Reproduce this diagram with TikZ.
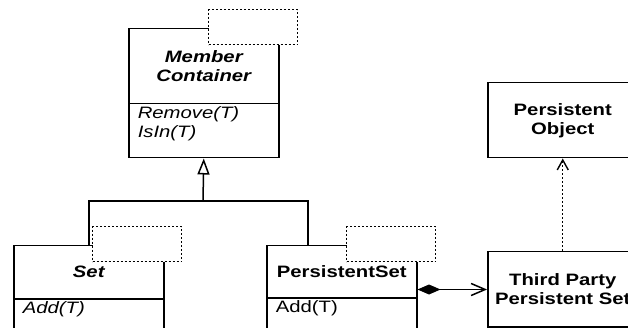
\documentclass[tikz,border=0pt]{standalone}
\usepackage{fontspec}
\setmainfont{Liberation Sans}[FakeStretch=1.23]
\usetikzlibrary{arrows.meta}

\begin{document}
\begin{tikzpicture}[x=1pt, y=-1pt, line width=1.5pt,
    font=\fontsize{16.5}{19}\selectfont,
    classname/.style={draw, rectangle, inner sep=0pt, align=center, minimum width=150pt, anchor=north west},
    classops/.style={draw, rectangle, inner sep=0pt, inner xsep=9pt, minimum width=150pt, anchor=north west},
    template/.style={draw, fill=white, rectangle, dash pattern=on 2pt off 2pt, line width=1.4pt,
        minimum width=89pt, minimum height=35pt, anchor=north west}]

    % Define the operations box height
    \def\opsHeight{54}

    \useasboundingbox (0,0) rectangle (628,328);
    \clip (0,0) rectangle (628,328);

    % Draw class Member Container
    \node[classname, minimum height=75pt, font=\fontsize{16.5}{19}\selectfont\bfseries\itshape] (mcName) at (128,28) {Member\\Container};
    \node[classops, minimum height=\opsHeight pt] (mcOps) at (128,103)
        {\parbox[c][\opsHeight pt][t]{132pt}{\itshape\vspace{1pt}\strut Remove(T)\\IsIn(T)}};
    \node[template] (mcTemplate) at (208,9) {};

    % Draw class Set
    \node[classname, minimum height=53pt, font=\fontsize{16.5}{19}\selectfont\bfseries\itshape] (setName) at (13,245) {Set};
    \node[classops, minimum height=\opsHeight pt] (setOps) at (13,298)
        {\parbox[c][\opsHeight pt][t]{132pt}{\itshape\vspace{1pt}\strut Add(T)}};
    \node[template] (setTemplate) at (92,226) {};

    % Draw class PersistentSet
    \node[classname, minimum height=52pt, font=\fontsize{16.5}{19}\selectfont\bfseries] (psName) at (266,245) {PersistentSet};
    \node[classops, minimum height=\opsHeight pt] (psOps) at (266,297)
        {\parbox[c][\opsHeight pt][t]{132pt}{\vspace{1pt}\strut Add(T)}};
    \node[template] (psTemplate) at (346,226) {};

    % Draw the outside classes
    \node[classname, minimum height=75pt, font=\fontsize{16.5}{19}\selectfont\bfseries] (poName) at (487,82) {Persistent\\Object};
    \node[classname, minimum height=75pt, font=\fontsize{16.5}{19}\selectfont\bfseries] (tpName) at (487,251) {Third Party\\Persistent Set};

    % Draw generalisation
    \coordinate (fork) at (203,201);
    \coordinate (psJoin) at (308,245);
    \draw[-{Triangle[open, length=16pt, width=12pt]}] (fork) -- (mcOps.south);
    \draw (setName.north) |- (fork) -| (psJoin);

    % Draw composition
    \coordinate (compStart) at ([yshift=9pt]psName.south east);
    \draw[{Diamond[length=23pt, width=10pt]}-{Straight Barb[length=14pt, width=12pt]}] (compStart) -- (compStart -| tpName.west);

    % Draw dependency
    \draw[dash pattern=on 2pt off 2pt, line width=1.3pt, -{Straight Barb[length=10pt, width=11pt, line width=1.4pt]}] (tpName.north) -- (poName.south);

\end{tikzpicture}
\end{document}
